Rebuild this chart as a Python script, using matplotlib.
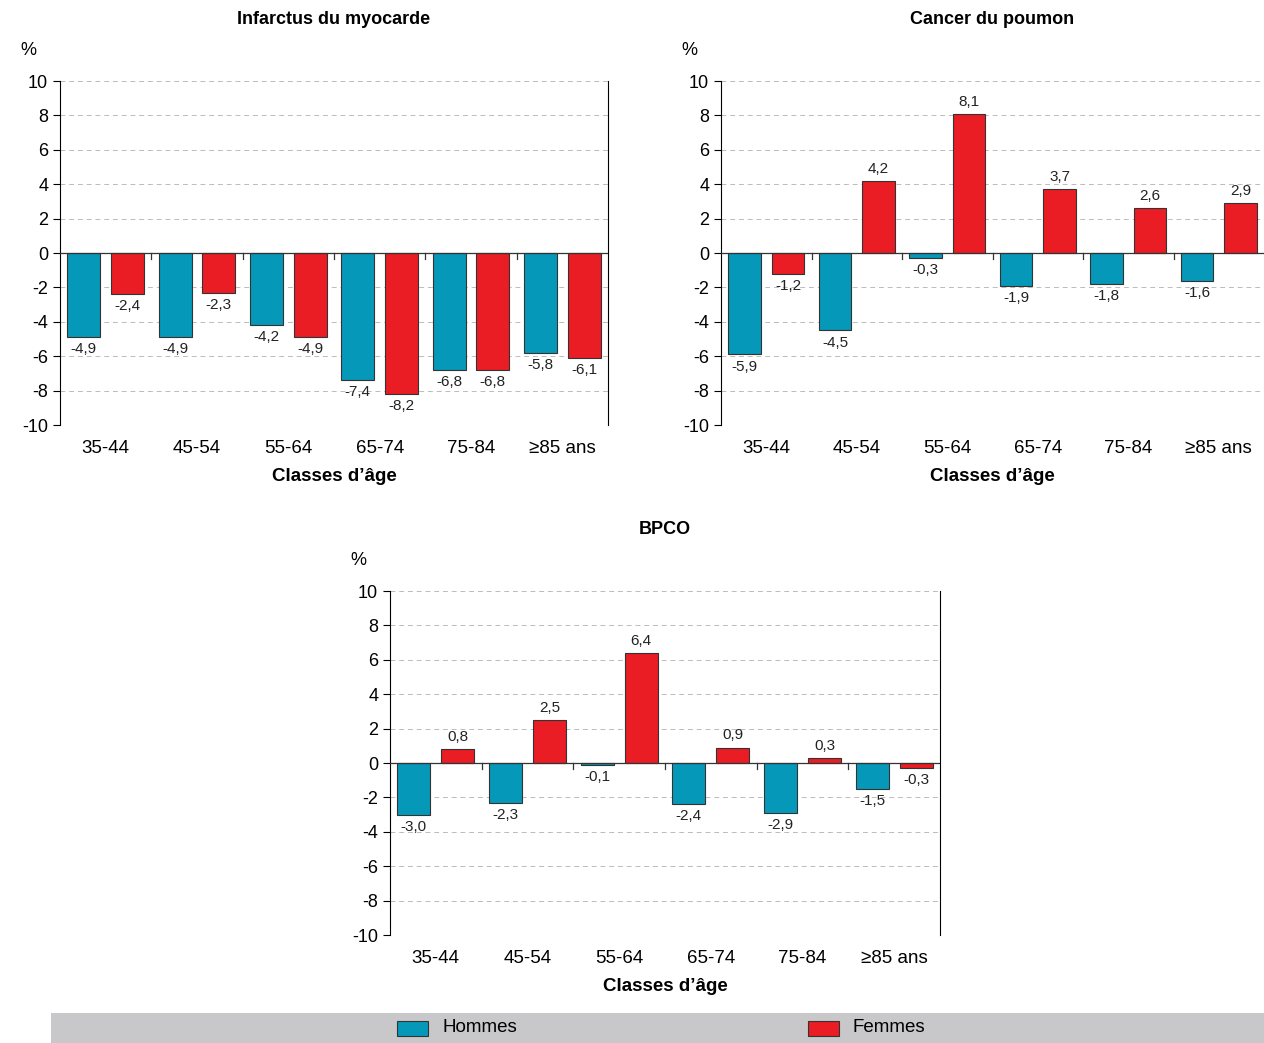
import numpy as np
import matplotlib.pyplot as plt
from matplotlib.patches import Rectangle
import matplotlib.transforms as mtransforms

plt.rcParams['font.family'] = ['Liberation Sans', 'DejaVu Sans']
plt.rcParams['axes.unicode_minus'] = False

categories = ['35-44', '45-54', '55-64', '65-74', '75-84', '\u226585 ans']
titles = ['Infarctus du myocarde', 'Cancer du poumon', 'BPCO']
hommes = [
    [-4.9, -4.9, -4.2, -7.4, -6.8, -5.8],
    [-5.9, -4.5, -0.3, -1.9, -1.8, -1.6],
    [-3.0, -2.3, -0.1, -2.4, -2.9, -1.5],
]
femmes = [
    [-2.4, -2.3, -4.9, -8.2, -6.8, -6.1],
    [-1.2, 4.2, 8.1, 3.7, 2.6, 2.9],
    [0.8, 2.5, 6.4, 0.9, 0.3, -0.3],
]

BLUE = '#0598b8'
RED = '#ea1c24'

W, H = 1264, 1043
fig = plt.figure(figsize=(W / 100, H / 100), dpi=100)

boxes = [(60, 81, 548, True), (721, 81, 543, False), (390, 591, 550, True)]


def fmt(v):
    return f'{v:.1f}'.replace('.', ',')


for k, (x0, ytop, w, right) in enumerate(boxes):
    ax = fig.add_axes([x0 / W, (H - ytop - 344) / H, w / W, 344 / H])
    x = np.arange(len(categories))
    bw = 0.36
    ax.bar(x - 0.24, hommes[k], bw, color=BLUE, edgecolor='#333333', linewidth=0.8, zorder=3)
    ax.bar(x + 0.24, femmes[k], bw, color=RED, edgecolor='#333333', linewidth=0.8, zorder=3)
    for xi, h, f in zip(x, hommes[k], femmes[k]):
        for xx, v in ((xi - 0.24, h), (xi + 0.24, f)):
            off = 0.3 if v >= 0 else -0.3
            ax.text(xx, v + off, fmt(v), ha='center', va='bottom' if v >= 0 else 'top',
                    fontsize=11, color='#222222', zorder=4)
    ax.set_xlim(-0.5, 5.5)
    ax.set_ylim(-10, 10)
    ax.set_yticks(range(-10, 11, 2))
    ax.tick_params(axis='y', labelsize=13, length=5, direction='out')
    ax.set_xticks([])
    ax.grid(axis='y', linestyle=(0, (5, 4)), color='#bbbbbb', linewidth=0.7, zorder=0)
    for s in ('top', 'bottom'):
        ax.spines[s].set_visible(False)
    ax.spines['right'].set_visible(right)
    ax.axhline(0, color='#333333', linewidth=0.9, zorder=5)
    for b in np.arange(0.5, 5.5, 1):
        ax.plot([b, b], [0, -0.35], color='#333333', linewidth=0.9, zorder=5)
    tr = mtransforms.blended_transform_factory(ax.transData, ax.transAxes)
    for xi, c in zip(x, categories):
        ax.text(xi, -0.045, c, transform=tr, ha='center', va='top', fontsize=13.5)
    ax.text(0.5, -0.125, "Classes d\u2019\u00e2ge", transform=ax.transAxes, ha='center',
            va='top', fontsize=13.5, fontweight='bold')
    ax.text(0.5, 1.18, titles[k], transform=ax.transAxes, ha='center', va='center',
            fontsize=13, fontweight='bold')
    ax.text(-0.058, 1.09, '%', transform=ax.transAxes, ha='center', va='center', fontsize=13)

# legend band
band = fig.add_axes([51 / W, 0, (W - 51) / W, 30 / H])
band.set_xlim(51, W)
band.set_ylim(0, 30)
band.axis('off')
band.add_patch(Rectangle((51, 0), W - 51, 30, color='#c8c8ca'))
band.add_patch(Rectangle((397, 7), 31, 15, facecolor=BLUE, edgecolor='#333333', linewidth=0.8))
band.add_patch(Rectangle((808, 7), 31, 15, facecolor=RED, edgecolor='#333333', linewidth=0.8))
band.text(442, 15, 'Hommes', va='center', fontsize=13.5)
band.text(853, 15, 'Femmes', va='center', fontsize=13.5)

fig.savefig('out.png', dpi=100)
